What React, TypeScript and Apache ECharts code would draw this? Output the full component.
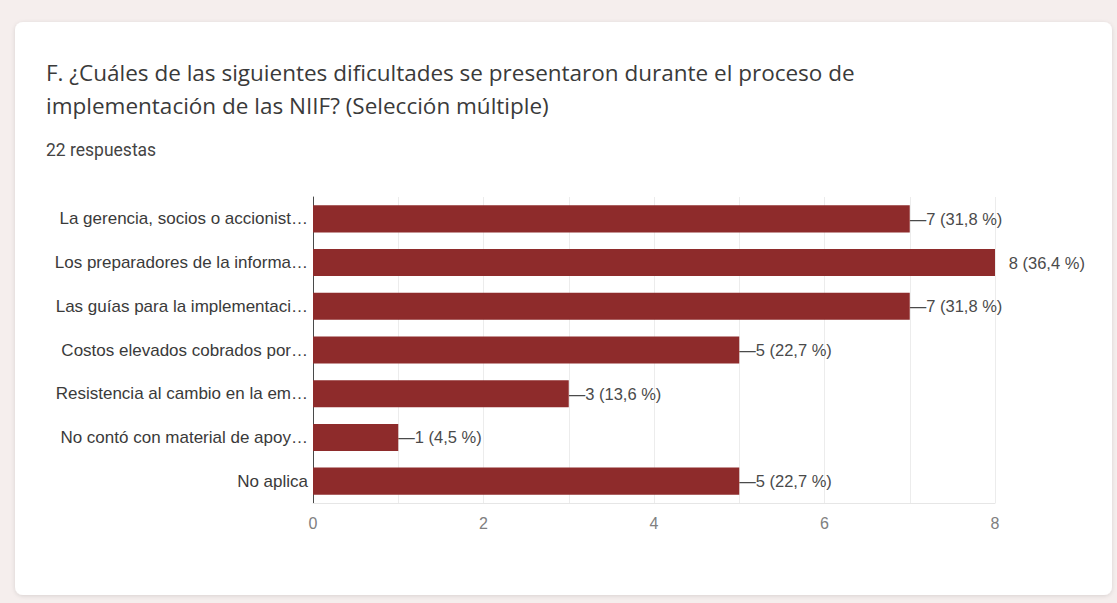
import React, { useEffect, useRef } from "react";
import * as echarts from "echarts";

const categories = [
  "La gerencia, socios o accionist…",
  "Los preparadores de la informa…",
  "Las guías para la implementaci…",
  "Costos elevados cobrados por…",
  "Resistencia al cambio en la em…",
  "No contó con material de apoy…",
  "No aplica",
];
const counts = [7, 8, 7, 5, 3, 1, 5];
const percents = ["31,8", "36,4", "31,8", "22,7", "13,6", "4,5", "22,7"];
const xTicks = [0, 2, 4, 6, 8];

const titleText =
  "F. ¿Cuáles de las siguientes dificultades se presentaron durante el proceso de\nimplementación de las NIIF? (Selección múltiple)";
const subtitleText = "22 respuestas";

export default function App() {
  const ref = useRef<HTMLDivElement>(null);
  useEffect(() => {
    document.body.style.margin = "0";
    const chart = echarts.init(ref.current!, null, { renderer: "svg" });
    const maxV = xTicks[xTicks.length - 1];
    const data = counts.map((v, i) => ({
      value: v,
      label: {
        formatter: v >= maxV ? `   ${v} (${percents[i]} %)` : `—${v} (${percents[i]} %)`,
      },
    }));
    chart.setOption({
      animation: false,
      backgroundColor: "#f5eeed",
      graphic: [
        {
          type: "rect",
          shape: { x: 15, y: 22, width: 1097, height: 573, r: 8 },
          style: {
            fill: "#ffffff",
            shadowBlur: 4,
            shadowColor: "rgba(0,0,0,0.12)",
            shadowOffsetY: 1,
          },
          z: -10,
        },
      ],
      title: [
        {
          text: titleText,
          left: 46,
          top: 56,
          padding: 0,
          textStyle: {
            fontFamily: "Open Sans",
            fontWeight: "normal",
            fontSize: 22.5,
            lineHeight: 33,
            color: "#3a3a3a",
          },
        },
        {
          text: subtitleText,
          left: 46,
          top: 141,
          padding: 0,
          textStyle: {
            fontFamily: "Roboto",
            fontWeight: "normal",
            fontSize: 17.5,
            color: "#444444",
          },
        },
      ],
      grid: { left: 313, right: 122, top: 197, bottom: 100, containLabel: false },
      xAxis: {
        type: "value",
        min: 0,
        max: maxV,
        interval: 2,
        axisLine: { show: true, lineStyle: { color: "#e6e6e6" } },
        axisTick: { show: false },
        splitLine: { show: true, lineStyle: { color: "#ececec" } },
        minorTick: { show: false, splitNumber: 2 },
        minorSplitLine: { show: true, lineStyle: { color: "#ececec" } },
        axisLabel: {
          color: "#808080",
          fontFamily: "Liberation Sans",
          fontSize: 16,
          margin: 12,
        },
      },
      yAxis: {
        type: "category",
        data: categories,
        inverse: true,
        axisLine: { show: true, lineStyle: { color: "#4a4a4a", width: 1 } },
        axisTick: { show: false },
        axisLabel: {
          color: "#3a3a3a",
          fontFamily: "Liberation Sans",
          fontSize: 17,
          margin: 5,
        },
      },
      series: [
        {
          type: "bar",
          data,
          barWidth: "62%",
          itemStyle: { color: "#8e2b2b" },
          label: {
            show: true,
            position: "right",
            distance: 0,
            color: "#4a4a4a",
            fontFamily: "Liberation Sans",
            fontSize: 16.5,
          },
        },
      ],
    });
    return () => chart.dispose();
  }, []);
  return (
    <div
      ref={ref}
      style={{ position: "absolute", left: 0, top: 0, width: 1117, height: 603 }}
    />
  );
}
